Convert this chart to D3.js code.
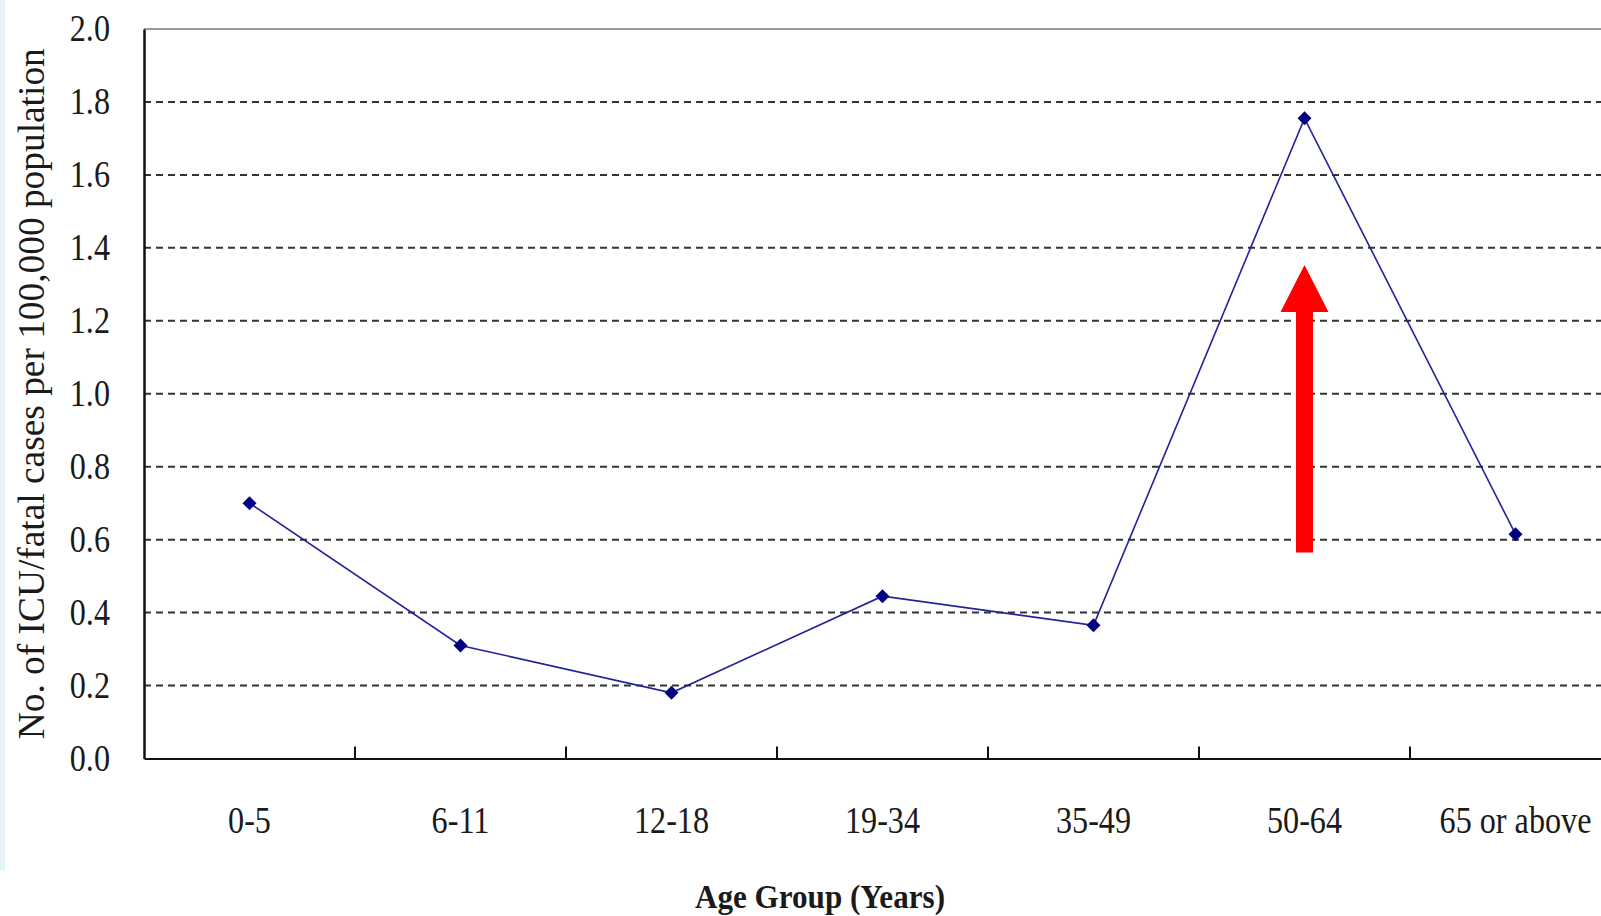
<!DOCTYPE html>
<html>
<head>
<meta charset="utf-8">
<script src="https://cdn.jsdelivr.net/npm/d3@7"></script>
<style>
  html, body { margin: 0; padding: 0; background: #ffffff; }
  svg { display: block; }
  text { font-family: "Liberation Serif", "DejaVu Serif", serif; fill: #1a1a1a; }
</style>
</head>
<body>
<svg id="chart" width="1601" height="916"></svg>
<script>
// ---- data ----
const categories = ["0-5", "6-11", "12-18", "19-34", "35-49", "50-64", "65 or above"];
const values = [0.70, 0.31, 0.18, 0.445, 0.365, 1.755, 0.615];
const yTicks = [0.0, 0.2, 0.4, 0.6, 0.8, 1.0, 1.2, 1.4, 1.6, 1.8, 2.0];
const yTitle = "No. of ICU/fatal cases per 100,000 population";
const xTitle = "Age Group (Years)";
const arrowCategory = "50-64";
const arrowFrom = 0.565;
const arrowTo = 1.353;

(function () {
// ---- layout ----
const svg = d3.select("#chart");
const mLeft = 144, mRight = 1621, mTop = 29, mBottom = 758.5;

const x = d3.scaleBand().domain(categories).range([mLeft, mRight]).paddingInner(0).paddingOuter(0);
const y = d3.scaleLinear().domain([0, 2]).range([mBottom, mTop]);
const bw = x.bandwidth();

// light blue strip at the left edge
svg.append("rect").attr("x", 0).attr("y", 0).attr("width", 5).attr("height", 870).attr("fill", "#e4f2fb");

// gridlines
svg.append("g").selectAll("line").data(yTicks.filter(d => d > 0 && d < 2)).join("line")
  .attr("x1", mLeft).attr("x2", mRight)
  .attr("y1", d => y(d)).attr("y2", d => y(d))
  .attr("stroke", "#333").attr("stroke-width", 2).attr("stroke-dasharray", "7,5");

// top border
svg.append("line").attr("x1", mLeft).attr("x2", mRight).attr("y1", y(2)).attr("y2", y(2))
  .attr("stroke", "#9a9a9a").attr("stroke-width", 2);

// y axis
const yAxis = svg.append("g").attr("transform", `translate(${mLeft},0)`)
  .call(d3.axisLeft(y).tickValues(yTicks).tickFormat(d3.format(".1f")).tickSize(0).tickPadding(34));
yAxis.select(".domain").attr("stroke", "#111").attr("stroke-width", 2.5);
yAxis.selectAll("text").attr("font-size", 37).attr("fill", "#1a1a1a")
  .attr("font-family", "Liberation Serif")
  .each(function () {
    const w = this.getComputedTextLength();
    d3.select(this).attr("textLength", w * 0.87).attr("lengthAdjust", "spacingAndGlyphs");
  });

// x axis
const xAxis = svg.append("g").attr("transform", `translate(0,${mBottom})`)
  .call(d3.axisBottom(x).tickSize(0).tickPadding(48));
xAxis.select(".domain").attr("stroke", "#111").attr("stroke-width", 2);
xAxis.selectAll("text").attr("font-size", 37).attr("fill", "#1a1a1a")
  .attr("font-family", "Liberation Serif")
  .attr("transform", "scale(0.87,1)");

// inward category boundary ticks
svg.append("g").selectAll("line").data(categories.slice(1)).join("line")
  .attr("x1", d => x(d)).attr("x2", d => x(d))
  .attr("y1", y(0)).attr("y2", y(0) - 12)
  .attr("stroke", "#111").attr("stroke-width", 2);

// series line
const line = d3.line().x((d, i) => x(categories[i]) + bw / 2).y(d => y(d));
svg.append("path").datum(values).attr("d", line)
  .attr("fill", "none").attr("stroke", "#22229a").attr("stroke-width", 1.6);

// markers
svg.append("g").selectAll("path").data(values).join("path")
  .attr("d", d3.symbol(d3.symbolSquare, 98))
  .attr("transform", (d, i) => `translate(${x(categories[i]) + bw / 2},${y(d)}) rotate(45)`)
  .attr("fill", "#000080");

// red arrow
const ax = x(arrowCategory) + bw / 2;
const yb = y(arrowFrom), yt = y(arrowTo);
const headLen = 47, headHalf = 24, shaftHalf = 8.5;
const arrowPts = [
  [ax - shaftHalf, yb], [ax - shaftHalf, yt + headLen], [ax - headHalf, yt + headLen],
  [ax, yt], [ax + headHalf, yt + headLen], [ax + shaftHalf, yt + headLen], [ax + shaftHalf, yb]
];
svg.append("path").attr("d", d3.line()(arrowPts) + "Z").attr("fill", "#ff0000");

// y title
svg.append("text")
  .attr("transform", `translate(44,${(mTop + mBottom) / 2}) rotate(-90)`)
  .attr("text-anchor", "middle").attr("font-size", 38)
  .attr("textLength", 691).attr("lengthAdjust", "spacingAndGlyphs")
  .text(yTitle);

// x title
svg.append("text")
  .attr("x", 820).attr("y", 908)
  .attr("text-anchor", "middle").attr("font-size", 33).attr("font-weight", "bold")
  .attr("textLength", 250).attr("lengthAdjust", "spacingAndGlyphs")
  .text(xTitle);
})();
</script>
</body>
</html>
